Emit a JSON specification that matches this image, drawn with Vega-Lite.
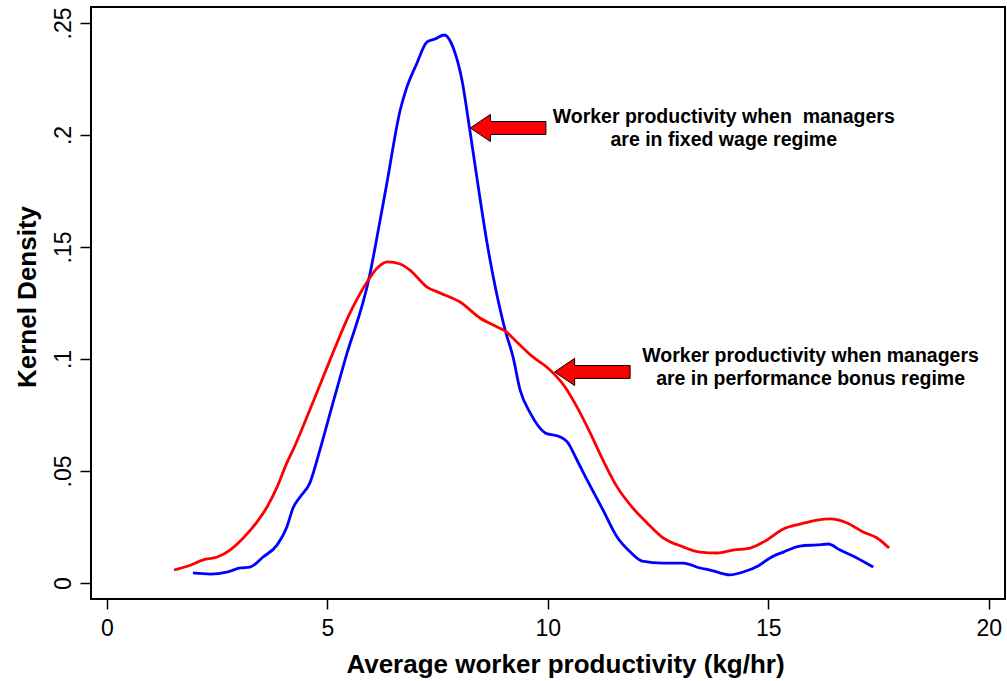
{
  "$schema": "https://vega.github.io/schema/vega-lite/v6.json",
  "width": 914,
  "height": 592,
  "autosize": {"type": "none"},
  "padding": {"left": 91, "top": 7, "right": 2, "bottom": 82},
  "background": "white",
  "config": {
    "view": {"stroke": "black", "strokeWidth": 2},
    "font": "Liberation Sans",
    "axis": {
      "domain": false,
      "grid": false,
      "tickColor": "black",
      "tickWidth": 1.5,
      "labelColor": "black",
      "labelFont": "Liberation Sans",
      "labelFontSize": 23,
      "titleFont": "Liberation Sans",
      "titleFontSize": 26,
      "titleFontWeight": "bold",
      "titleColor": "black"
    }
  },
  "datasets": {
    "curves": [
      {"x": 1.95, "y": 0.0045, "series": "fixed"},
      {"x": 2.34, "y": 0.004, "series": "fixed"},
      {"x": 2.72, "y": 0.0049, "series": "fixed"},
      {"x": 3.02, "y": 0.0067, "series": "fixed"},
      {"x": 3.24, "y": 0.0071, "series": "fixed"},
      {"x": 3.54, "y": 0.0116, "series": "fixed"},
      {"x": 3.86, "y": 0.017, "series": "fixed"},
      {"x": 4.08, "y": 0.025, "series": "fixed"},
      {"x": 4.22, "y": 0.0335, "series": "fixed"},
      {"x": 4.38, "y": 0.0384, "series": "fixed"},
      {"x": 4.6, "y": 0.0446, "series": "fixed"},
      {"x": 4.83, "y": 0.0594, "series": "fixed"},
      {"x": 5.1, "y": 0.0786, "series": "fixed"},
      {"x": 5.4, "y": 0.0996, "series": "fixed"},
      {"x": 5.97, "y": 0.1384, "series": "fixed"},
      {"x": 6.08, "y": 0.1496, "series": "fixed"},
      {"x": 6.35, "y": 0.1786, "series": "fixed"},
      {"x": 6.65, "y": 0.211, "series": "fixed"},
      {"x": 6.78, "y": 0.22, "series": "fixed"},
      {"x": 7.03, "y": 0.232, "series": "fixed"},
      {"x": 7.26, "y": 0.2415, "series": "fixed"},
      {"x": 7.44, "y": 0.2428, "series": "fixed"},
      {"x": 7.65, "y": 0.2446, "series": "fixed"},
      {"x": 7.87, "y": 0.238, "series": "fixed"},
      {"x": 8.05, "y": 0.2246, "series": "fixed"},
      {"x": 8.23, "y": 0.2022, "series": "fixed"},
      {"x": 8.39, "y": 0.181, "series": "fixed"},
      {"x": 8.64, "y": 0.1496, "series": "fixed"},
      {"x": 8.92, "y": 0.1219, "series": "fixed"},
      {"x": 9.03, "y": 0.113, "series": "fixed"},
      {"x": 9.21, "y": 0.1009, "series": "fixed"},
      {"x": 9.37, "y": 0.0862, "series": "fixed"},
      {"x": 9.6, "y": 0.0759, "series": "fixed"},
      {"x": 9.94, "y": 0.067, "series": "fixed"},
      {"x": 10.28, "y": 0.0652, "series": "fixed"},
      {"x": 10.44, "y": 0.063, "series": "fixed"},
      {"x": 10.66, "y": 0.0549, "series": "fixed"},
      {"x": 10.89, "y": 0.046, "series": "fixed"},
      {"x": 11.25, "y": 0.0326, "series": "fixed"},
      {"x": 11.57, "y": 0.0205, "series": "fixed"},
      {"x": 11.87, "y": 0.0138, "series": "fixed"},
      {"x": 12.14, "y": 0.0098, "series": "fixed"},
      {"x": 12.61, "y": 0.0089, "series": "fixed"},
      {"x": 13.07, "y": 0.0089, "series": "fixed"},
      {"x": 13.45, "y": 0.0067, "series": "fixed"},
      {"x": 13.68, "y": 0.0058, "series": "fixed"},
      {"x": 14.13, "y": 0.0036, "series": "fixed"},
      {"x": 14.43, "y": 0.0049, "series": "fixed"},
      {"x": 14.77, "y": 0.0076, "series": "fixed"},
      {"x": 15.04, "y": 0.0112, "series": "fixed"},
      {"x": 15.34, "y": 0.0138, "series": "fixed"},
      {"x": 15.72, "y": 0.0165, "series": "fixed"},
      {"x": 16.11, "y": 0.017, "series": "fixed"},
      {"x": 16.36, "y": 0.0174, "series": "fixed"},
      {"x": 16.63, "y": 0.0147, "series": "fixed"},
      {"x": 17.01, "y": 0.0112, "series": "fixed"},
      {"x": 17.38, "y": 0.0071, "series": "fixed"},
      {"x": 1.52, "y": 0.0058, "series": "bonus"},
      {"x": 1.84, "y": 0.0076, "series": "bonus"},
      {"x": 2.18, "y": 0.0103, "series": "bonus"},
      {"x": 2.5, "y": 0.0116, "series": "bonus"},
      {"x": 2.79, "y": 0.0147, "series": "bonus"},
      {"x": 3.09, "y": 0.0201, "series": "bonus"},
      {"x": 3.4, "y": 0.0272, "series": "bonus"},
      {"x": 3.63, "y": 0.0339, "series": "bonus"},
      {"x": 3.86, "y": 0.0429, "series": "bonus"},
      {"x": 4.08, "y": 0.0536, "series": "bonus"},
      {"x": 4.22, "y": 0.0594, "series": "bonus"},
      {"x": 4.6, "y": 0.0772, "series": "bonus"},
      {"x": 5.06, "y": 0.0996, "series": "bonus"},
      {"x": 5.51, "y": 0.1205, "series": "bonus"},
      {"x": 5.9, "y": 0.1344, "series": "bonus"},
      {"x": 6.13, "y": 0.1406, "series": "bonus"},
      {"x": 6.37, "y": 0.1433, "series": "bonus"},
      {"x": 6.65, "y": 0.1424, "series": "bonus"},
      {"x": 6.87, "y": 0.1397, "series": "bonus"},
      {"x": 7.26, "y": 0.1321, "series": "bonus"},
      {"x": 7.55, "y": 0.1295, "series": "bonus"},
      {"x": 8.01, "y": 0.1254, "series": "bonus"},
      {"x": 8.46, "y": 0.1183, "series": "bonus"},
      {"x": 8.85, "y": 0.1143, "series": "bonus"},
      {"x": 9.03, "y": 0.1125, "series": "bonus"},
      {"x": 9.32, "y": 0.1071, "series": "bonus"},
      {"x": 9.66, "y": 0.1009, "series": "bonus"},
      {"x": 10.0, "y": 0.096, "series": "bonus"},
      {"x": 10.39, "y": 0.0875, "series": "bonus"},
      {"x": 10.66, "y": 0.0786, "series": "bonus"},
      {"x": 10.96, "y": 0.067, "series": "bonus"},
      {"x": 11.25, "y": 0.0549, "series": "bonus"},
      {"x": 11.57, "y": 0.0429, "series": "bonus"},
      {"x": 11.91, "y": 0.0339, "series": "bonus"},
      {"x": 12.25, "y": 0.0268, "series": "bonus"},
      {"x": 12.59, "y": 0.0205, "series": "bonus"},
      {"x": 13.07, "y": 0.0161, "series": "bonus"},
      {"x": 13.45, "y": 0.0138, "series": "bonus"},
      {"x": 13.84, "y": 0.0134, "series": "bonus"},
      {"x": 14.2, "y": 0.0147, "series": "bonus"},
      {"x": 14.59, "y": 0.0156, "series": "bonus"},
      {"x": 14.97, "y": 0.0192, "series": "bonus"},
      {"x": 15.34, "y": 0.0241, "series": "bonus"},
      {"x": 15.72, "y": 0.0263, "series": "bonus"},
      {"x": 16.11, "y": 0.0281, "series": "bonus"},
      {"x": 16.4, "y": 0.0286, "series": "bonus"},
      {"x": 16.79, "y": 0.0268, "series": "bonus"},
      {"x": 17.15, "y": 0.0228, "series": "bonus"},
      {"x": 17.47, "y": 0.0201, "series": "bonus"},
      {"x": 17.74, "y": 0.0156, "series": "bonus"}
    ],
    "arrows": [
      {"x": 9.1, "y": 0.2031},
      {"x": 11.01, "y": 0.0942}
    ],
    "notes": [
      {"x": 13.99, "y": 0.2054, "label": "Worker productivity when\u00a0 managers"},
      {"x": 13.99, "y": 0.1951, "label": "are in fixed wage regime"},
      {"x": 15.96, "y": 0.0987, "label": "Worker productivity when managers"},
      {"x": 15.96, "y": 0.0884, "label": "are in performance bonus regime"}
    ]
  },
  "layer": [
    {
      "data": {"name": "curves"},
      "mark": {"type": "line", "strokeWidth": 2.8, "interpolate": "monotone"},
      "encoding": {
        "x": {
          "field": "x",
          "type": "quantitative",
          "scale": {"domain": [-0.363, 20.37], "nice": false, "zero": false},
          "axis": {
            "values": [0, 5, 10, 15, 20],
            "tickSize": 10,
            "labelPadding": 8,
            "title": "Average worker productivity (kg/hr)",
            "titleX": 474,
            "titleY": 73,
            "titleAlign": "center",
            "titleBaseline": "alphabetic"
          }
        },
        "y": {
          "field": "y",
          "type": "quantitative",
          "scale": {"domain": [-0.00714, 0.2571], "nice": false, "zero": false},
          "axis": {
            "values": [0, 0.05, 0.1, 0.15, 0.2, 0.25],
            "labelExpr": "datum.value == 0 ? '0' : replace(format(datum.value, '.2~f'), '0.', '.')",
            "tickSize": 11,
            "labelAngle": 270,
            "labelAlign": "center",
            "labelBaseline": "alphabetic",
            "labelPadding": 10,
            "title": "Kernel Density",
            "titleAngle": 270,
            "titleX": -56,
            "titleY": 289.5,
            "titleAlign": "center",
            "titleBaseline": "alphabetic"
          }
        },
        "color": {
          "field": "series",
          "type": "nominal",
          "scale": {"domain": ["fixed", "bonus"], "range": ["#0000ff", "#ff0000"]},
          "legend": null
        },
        "detail": {"field": "series"}
      }
    },
    {
      "data": {"name": "arrows"},
      "mark": {
        "type": "point",
        "shape": "M -1 0 L -0.47 -0.36 L -0.47 -0.17 L 1 -0.17 L 1 0.17 L -0.47 0.17 L -0.47 0.36 Z",
        "filled": true,
        "fill": "#ff0000",
        "stroke": "black",
        "strokeWidth": 1,
        "opacity": 1,
        "fillOpacity": 1,
        "size": 5700
      },
      "encoding": {
        "x": {"field": "x", "type": "quantitative"},
        "y": {"field": "y", "type": "quantitative"}
      }
    },
    {
      "data": {"name": "notes"},
      "mark": {
        "type": "text",
        "font": "Liberation Sans",
        "fontWeight": "bold",
        "fontSize": 19.5,
        "align": "center",
        "baseline": "alphabetic",
        "color": "black"
      },
      "encoding": {
        "x": {"field": "x", "type": "quantitative"},
        "y": {"field": "y", "type": "quantitative"},
        "text": {"field": "label"}
      }
    }
  ]
}
